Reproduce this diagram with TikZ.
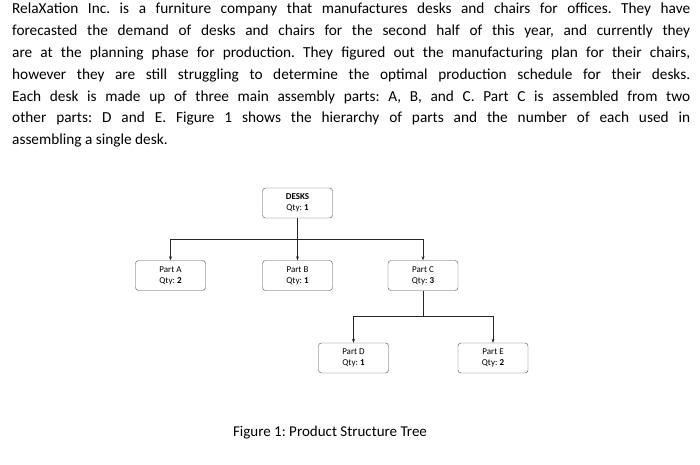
\documentclass[tikz,border=0pt]{standalone}
\usepackage{fontspec}
\setmainfont{Carlito}
\usetikzlibrary{positioning}
\usetikzlibrary{arrows.meta}
\begin{document}
\frenchspacing
\begin{tikzpicture}[x=1pt,y=-1pt,
partnode/.style={rectangle, rounded corners=3pt, draw=black!70, thin, minimum width=70pt, minimum height=30pt, align=center, font=\fontsize{9}{11}\selectfont, inner sep=1pt},
linkline/.style={thick, black!85, -{Stealth[length=4pt,width=3pt]}},
]
\useasboundingbox (0,0) rectangle (700,464);
%Text
\node[anchor=north west, text width=678pt, align=justify, inner sep=0pt, font=\fontsize{15.3}{21.8}\selectfont] (para) at (12,3)
{RelaXation Inc. is a furniture company that manufactures desks and chairs for offices. They have\linebreak
forecasted the demand of desks and chairs for the second half of this year, and currently they\linebreak
are at the planning phase for production. They figured out the manufacturing plan for their chairs,\linebreak
however they are still struggling to determine the optimal production schedule for their desks.\linebreak
Each desk is made up of three main assembly parts: A, B, and C. Part C is assembled from two\linebreak
other parts: D and E. Figure 1 shows the hierarchy of parts and the number of each used in\linebreak
assembling a single desk.\par};

%Nodes
\node[partnode]		(desks)		at (297.5,203)		{\textbf{DESKS}\\Qty: \textbf{1}};
\node[partnode]		(parta)		at (170.5,275.5)	{Part A\\Qty: \textbf{2}};
\node[partnode]		(partb)		at (297.5,275.5)	{Part B\\Qty: \textbf{1}};
\node[partnode]		(partc)		at (423,275.5)		{Part C\\Qty: \textbf{3}};
\node[partnode]		(partd)		at (353.5,358)		{Part D\\Qty: \textbf{1}};
\node[partnode]		(parte)		at (493,358)		{Part E\\Qty: \textbf{2}};
\coordinate		(bus1)		at (0,239);
\coordinate		(bus2)		at (0,316);
\node[font=\fontsize{15}{17}\selectfont] (caption) at (330,433) {Figure 1: Product Structure Tree};

%Lines
\draw[thick, black!85] (desks.south) -- (desks.south |- bus1);
\draw[thick, black!85] (parta.north |- bus1) -- (partc.north |- bus1);
\draw[linkline] (parta.north |- bus1) -- (parta.north);
\draw[linkline] (partb.north |- bus1) -- (partb.north);
\draw[linkline] (partc.north |- bus1) -- (partc.north);
\draw[thick, black!85] (partc.south) -- (partc.south |- bus2);
\draw[thick, black!85] (partd.north |- bus2) -- (parte.north |- bus2);
\draw[linkline] (partd.north |- bus2) -- (partd.north);
\draw[linkline] (parte.north |- bus2) -- (parte.north);
\end{tikzpicture}
\end{document}
